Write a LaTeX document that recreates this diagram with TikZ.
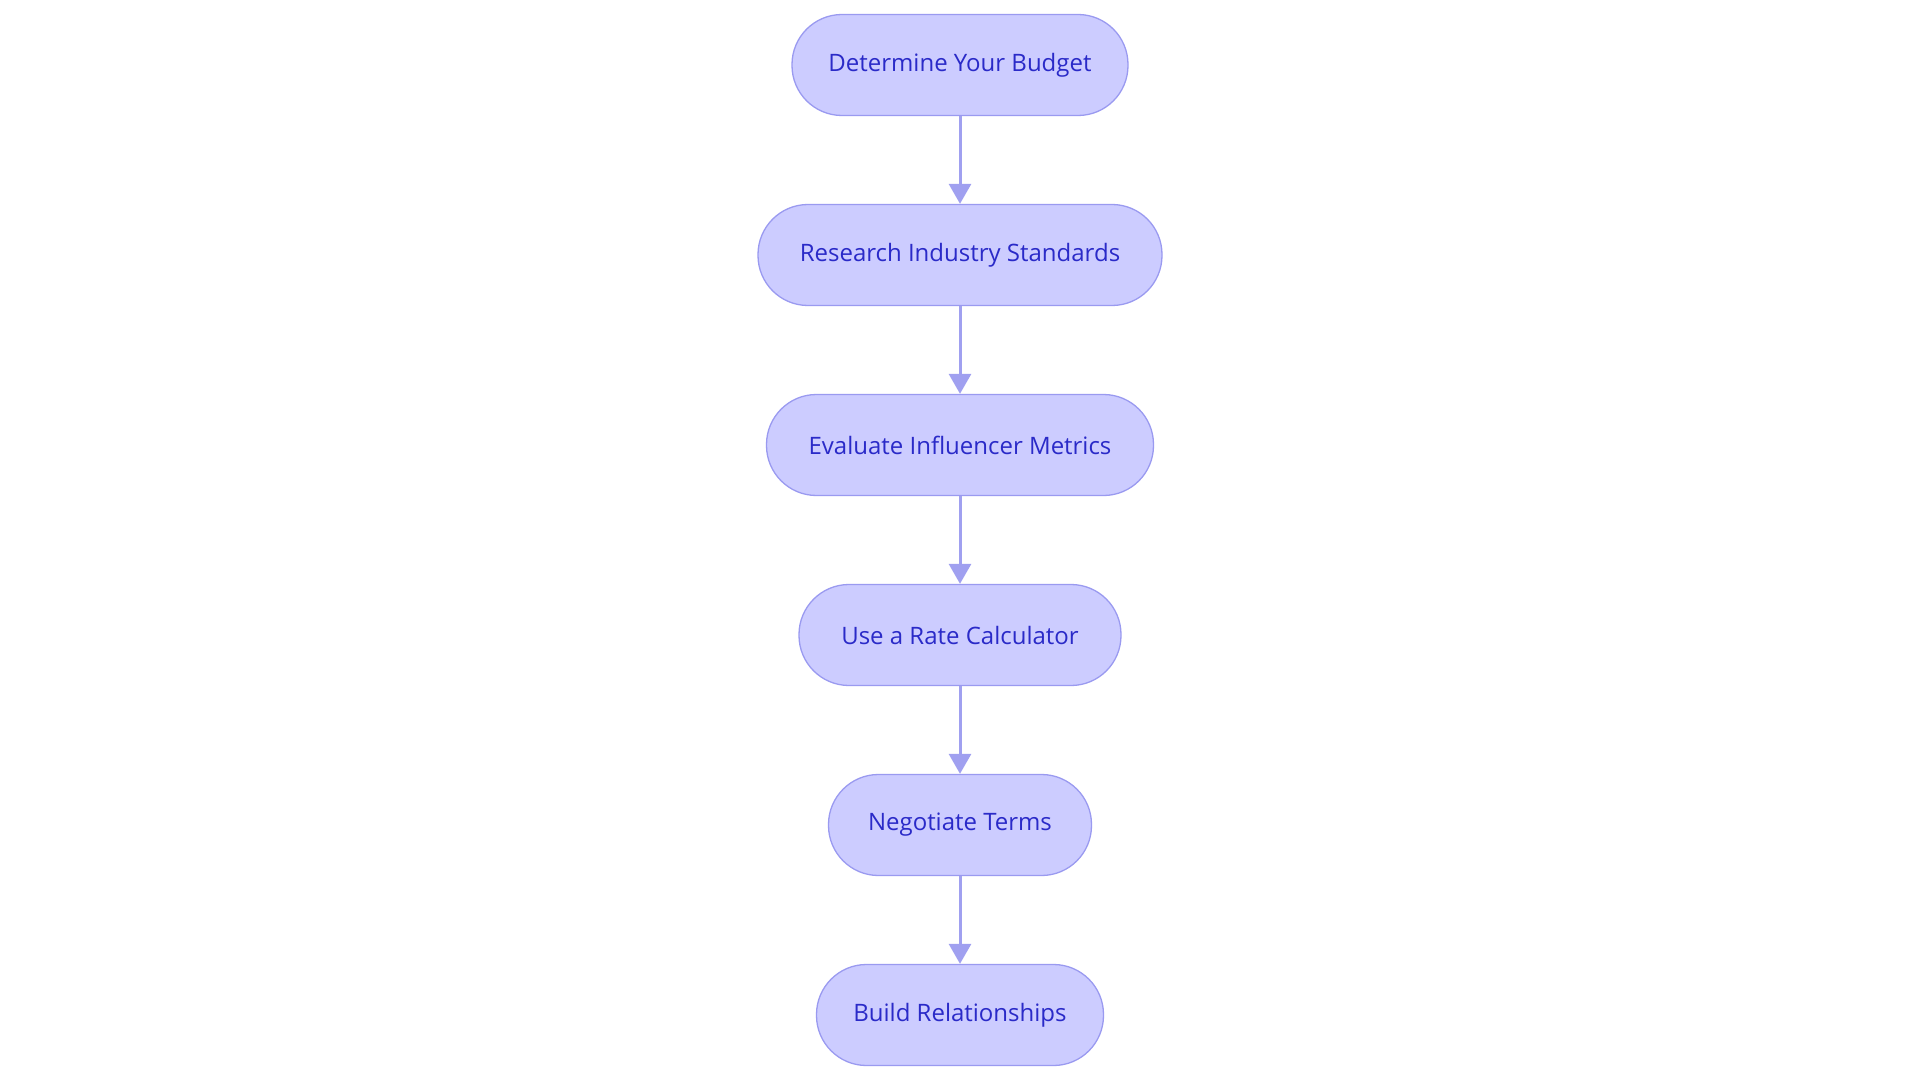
\documentclass[tikz,border=0pt]{standalone}
\usepackage{fontspec}
\setmainfont{Open Sans}
\usetikzlibrary{arrows.meta}
\definecolor{nfill}{HTML}{CCCCFF}
\definecolor{nborder}{HTML}{9A9AF0}
\definecolor{ntext}{HTML}{2A2AC8}
\definecolor{arr}{HTML}{A0A0F0}
\begin{document}
\begin{tikzpicture}[x=1pt,y=-1pt,
  box/.style={draw=nborder,line width=1.3pt,fill=nfill,rounded corners=50pt,minimum height=101pt,text=ntext,font=\fontsize{24}{29}\selectfont},
  link/.style={draw=arr,line width=3pt,-{Triangle[length=20pt,width=22pt]}}]
\useasboundingbox (0,0) rectangle (1920,1083);
\node[box,minimum width=336pt] (a) at (960,65) {Determine Your Budget};
\node[box,minimum width=404pt] (b) at (960,255) {Research Industry Standards};
\node[box,minimum width=387pt] (c) at (960,445) {Evaluate Influencer Metrics};
\node[box,minimum width=322pt] (d) at (960,635) {Use a Rate Calculator};
\node[box,minimum width=263pt] (e) at (960,825) {Negotiate Terms};
\node[box,minimum width=287pt] (f) at (960,1015) {Build Relationships};
\foreach \s/\t in {a/b,b/c,c/d,d/e,e/f} \draw[link] (\s) -- (\t);
\end{tikzpicture}
\end{document}
